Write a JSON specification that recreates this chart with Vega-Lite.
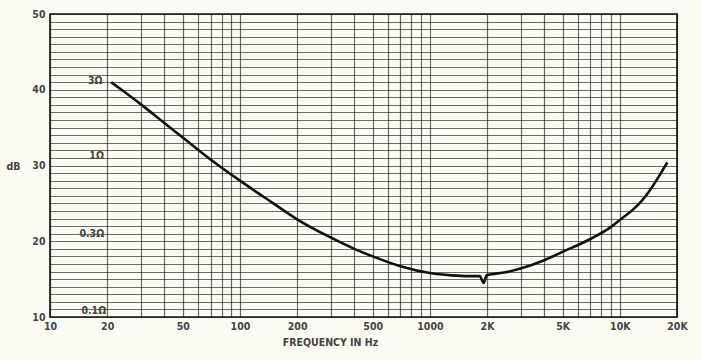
{
  "$schema": "https://vega.github.io/schema/vega-lite/v6.json",
  "width": 627,
  "height": 303,
  "autosize": {"type": "none"},
  "padding": {"left": 50, "top": 14, "right": 24, "bottom": 43},
  "background": "#fbfbf4",
  "config": {
    "font": "DejaVu Sans Condensed, Liberation Sans Narrow, sans-serif",
    "view": {"stroke": "#111", "strokeWidth": 1.6, "fill": "#fbfbf4"},
    "axis": {
      "gridColor": "#111", "gridOpacity": 0.62, "gridWidth": 1.2,
      "domain": false, "ticks": false,
      "labelColor": "#444", "labelFont": "DejaVu Sans Condensed, Liberation Sans Narrow, sans-serif",
      "labelFontSize": 10.5, "labelFontWeight": "bold",
      "titleColor": "#444", "titleFont": "DejaVu Sans Condensed, Liberation Sans Narrow, sans-serif",
      "titleFontSize": 10.5, "titleFontWeight": "bold"
    }
  },
  "encoding": {
    "x": {
      "field": "f", "type": "quantitative",
      "scale": {"type": "log", "domain": [10, 20000], "nice": false},
      "axis": {
        "values": [10,20,30,40,50,60,70,80,90,100,200,300,400,500,600,700,800,900,1000,2000,3000,4000,5000,6000,7000,8000,9000,10000,20000],
        "labelExpr": "indexof([10,20,50,100,200,500,1000], datum.value) >= 0 ? datum.value : (indexof([2000,5000,10000,20000], datum.value) >= 0 ? (datum.value/1000) + 'K' : '')",
        "labelOverlap": false, "labelFlush": false, "labelBound": false,
        "labelPadding": 4,
        "title": "FREQUENCY IN Hz", "titleX": 280, "titlePadding": 6
      }
    },
    "y": {
      "field": "db", "type": "quantitative",
      "scale": {"domain": [10, 50], "nice": false, "zero": false},
      "axis": {
        "values": [10,11,12,13,14,15,16,17,18,19,20,21,22,23,24,25,26,27,28,29,30,31,32,33,34,35,36,37,38,39,40,41,42,43,44,45,46,47,48,49,50],
        "labelExpr": "datum.value % 10 === 0 ? datum.value : ''",
        "labelOverlap": false, "labelFlush": false, "labelBound": false,
        "labelPadding": 5,
        "title": "dB", "titleAngle": 0, "titleX": -44, "titleY": 152,
        "titleAlign": "left", "titleBaseline": "middle"
      }
    }
  },
  "layer": [
    {
      "data": {"values": [
        {"f": 21, "db": 41.0}, {"f": 25, "db": 39.6}, {"f": 30, "db": 38.1},
        {"f": 40, "db": 35.6}, {"f": 50, "db": 33.7}, {"f": 70, "db": 30.8},
        {"f": 100, "db": 28.0}, {"f": 150, "db": 25.0}, {"f": 200, "db": 22.9},
        {"f": 300, "db": 20.5}, {"f": 400, "db": 19.0}, {"f": 500, "db": 18.0},
        {"f": 700, "db": 16.7}, {"f": 1000, "db": 15.8}, {"f": 1300, "db": 15.5},
        {"f": 1600, "db": 15.4}, {"f": 1830, "db": 15.4}, {"f": 1920, "db": 14.5},
        {"f": 1990, "db": 15.5}, {"f": 2500, "db": 15.9}, {"f": 3000, "db": 16.4},
        {"f": 4000, "db": 17.5}, {"f": 5000, "db": 18.6}, {"f": 7000, "db": 20.3},
        {"f": 9000, "db": 21.9}, {"f": 10000, "db": 22.8}, {"f": 12000, "db": 24.4},
        {"f": 13000, "db": 25.3}, {"f": 14000, "db": 26.3}, {"f": 15000, "db": 27.4},
        {"f": 16000, "db": 28.5}, {"f": 17000, "db": 29.6}, {"f": 17800, "db": 30.4}
      ]},
      "mark": {"type": "line", "color": "#111", "strokeWidth": 2.6, "interpolate": "monotone"}
    },
    {
      "data": {"values": [
        {"f": 17.3, "db": 41.1, "t": "3Ω"},
        {"f": 17.6, "db": 31.3, "t": "1Ω"},
        {"f": 16.6, "db": 21.0, "t": "0.3Ω"},
        {"f": 17.0, "db": 10.8, "t": "0.1Ω"}
      ]},
      "mark": {"type": "text", "color": "#444", "fontSize": 10.5, "fontWeight": "bold", "baseline": "middle", "align": "center"},
      "encoding": {
        "text": {"field": "t"}
      }
    }
  ]
}
